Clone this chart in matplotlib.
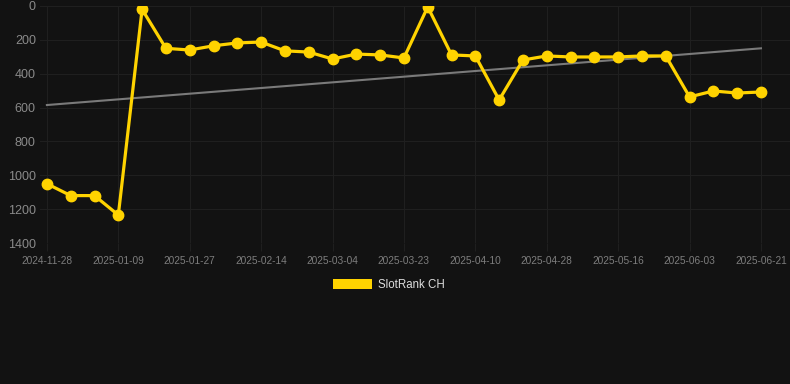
import matplotlib
matplotlib.use("Agg")
import matplotlib.pyplot as plt
import numpy as np

plt.rcParams['font.family'] = ['Liberation Sans', 'DejaVu Sans']

dates = ["2024-11-28", "2024-12-12", "2024-12-26", "2025-01-09", "2025-01-15", "2025-01-21",
         "2025-01-27", "2025-02-02", "2025-02-08", "2025-02-14", "2025-02-20", "2025-02-26",
         "2025-03-04", "2025-03-10", "2025-03-16", "2025-03-23", "2025-03-29", "2025-04-04",
         "2025-04-10", "2025-04-16", "2025-04-22", "2025-04-28", "2025-05-04", "2025-05-10",
         "2025-05-16", "2025-05-22", "2025-05-28", "2025-06-03", "2025-06-09", "2025-06-15",
         "2025-06-21"]
rank = [1050, 1120, 1120, 1235, 20, 250, 260, 235, 218, 213, 265, 272, 313, 284, 289, 307,
        5, 289, 295, 555, 319, 295, 301, 301, 301, 295, 295, 537, 502, 514, 508]
trend = [585, 250]
series_label = "SlotRank CH"
y_ticks = [0, 200, 400, 600, 800, 1000, 1200, 1400]

bg = "#121212"
grid_c = "#1f1f1f"
fig = plt.figure(figsize=(7.9, 3.84), dpi=100, facecolor=bg)
ax = fig.add_axes([40/790, (384-243)/384, 750/790, 237/384], facecolor=bg)

x = np.arange(len(dates))
ax.plot([x[0], x[-1]], trend, color="#7a7a7a", lw=1.5, zorder=2)
ax.plot(x, rank, color="#FFD300", lw=2.3, marker="o", ms=7.5, zorder=3)

ax.set_ylim(1400, 0)
ax.set_xlim(-0.29, 31.22)
ax.set_yticks(y_ticks)
ax.set_yticklabels([str(v) for v in y_ticks])
ax.set_xticks(x[::3])
ax.set_xticklabels(dates[::3])
ax.tick_params(axis='y', length=0, pad=3, labelsize=9, labelcolor="#8a8a8a")
ax.tick_params(axis='x', length=6, width=0.8, color=grid_c, pad=3, labelsize=7.3, labelcolor="#7d7d7d")
ax.grid(True, color=grid_c, lw=0.8, zorder=0)
for s in ax.spines.values():
    s.set_visible(False)

# legend
fig.patches.append(plt.Rectangle((333/790, 1-289/384), 39/790, 10/384, transform=fig.transFigure,
                                 facecolor="#FFD300", edgecolor="none"))
fig.text(378/790, 1-284.5/384, series_label, color="#dddddd", fontsize=8.3, va="center", ha="left")

fig.savefig("out.png", dpi=100, facecolor=bg)
